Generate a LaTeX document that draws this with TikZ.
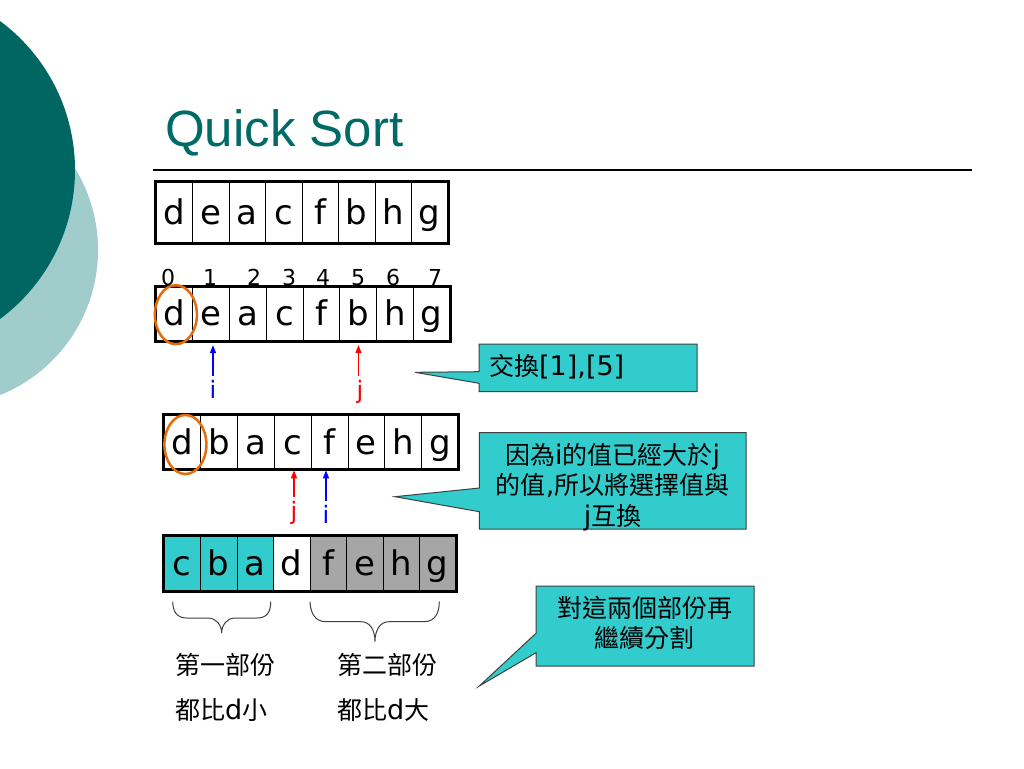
\documentclass[tikz,border=0pt]{standalone}
\usepackage{fontspec}
\setmainfont{DejaVu Sans}
\newfontfamily\cjk{Noto Sans CJK TC}
\newfontfamily\titlefont{Liberation Sans}
\usetikzlibrary{arrows.meta,calc}
\definecolor{tealdark}{RGB}{0,102,98}
\definecolor{teallight}{RGB}{160,204,204}
\definecolor{titlec}{RGB}{0,107,102}
\definecolor{turq}{RGB}{51,204,204}
\definecolor{grayc}{RGB}{166,166,166}
\definecolor{orangec}{RGB}{228,108,10}
\definecolor{edgec}{RGB}{64,64,64}
\newcommand{\lat}[1]{{\fontsize{27}{30}\selectfont #1}}
\begin{document}
\begin{tikzpicture}[x=1pt,y=-1pt]
\tikzset{
 cell/.style={draw=black,line width=0.8pt,inner sep=0pt,font=\fontsize{34}{40}\selectfont,text height=26pt,text depth=2pt},
 idx/.style={anchor=base,inner sep=0pt,font=\fontsize{22}{24}\selectfont},
 ptrlabel/.style={anchor=base,inner sep=0pt,font=\fontsize{24}{28}\selectfont},
 ptr/.style={line width=1.3pt,-{Triangle[width=6pt,length=8pt]}},
 frame/.style={line width=3pt},
 pivot/.style={draw=orangec,line width=2.5pt},
 callout/.style={fill=turq,draw=edgec,line width=1pt},
 ctext/.style={anchor=base,inner sep=0pt,font=\fontsize{25}{30}\selectfont},
 bracestyle/.style={draw=edgec,line width=1pt},
 lab/.style={anchor=base west,inner sep=0pt,font=\fontsize{25}{30}\selectfont}
}
\useasboundingbox (0,0) rectangle (1024,768);
\fill[white] (0,0) rectangle (1024,768);
% decorative circles
\begin{scope}
\clip (0,0) rectangle (1024,768);
\fill[teallight] (-58.3,250) circle[radius=156.3pt];
\fill[tealdark] (-110.5,170) circle[radius=185.5pt];
\end{scope}
% title
\node[anchor=base west,inner sep=0pt,text=titlec,font=\titlefont\fontsize{51}{60}\selectfont] (title) at (165,146) {Quick Sort};
\draw[line width=1.5pt] (153,170) -- (972,170);
% array 1
\foreach \l [count=\n from 0] in {d,e,a,c,f,b,h,g}
  \node[cell,minimum width=36.5pt,minimum height=61pt] (a1-\n) at ({174.25+36.5*\n},212.5) {\l};
\draw[frame] (a1-0.north west) rectangle (a1-7.south east);
% indices
\foreach \d/\x in {0/168,1/210,2/254,3/289,4/323,5/358,6/393,7/435}
  \node[idx] (n\d) at (\x,285) {\d};
% array 2
\foreach \l [count=\n from 0] in {d,e,a,c,f,b,h,g}
  \node[cell,minimum width=36.75pt,minimum height=54pt] (a2-\n) at ({174.375+36.75*\n},313.7) {\l};
\draw[frame] (a2-0.north west) rectangle (a2-7.south east);
\draw[pivot] ($(a2-0)+(1.5,1)$) ellipse [x radius=21pt,y radius=29.5pt];
\node[ptrlabel,text=blue] (i1) at (213,398) {i};
\node[ptrlabel,text=red] (j1) at (360,398) {j};
\draw[ptr,blue] ([yshift=4pt]i1.north) -- ($(i1.north |- a2-1.south)+(0,4)$);
\draw[ptr,red] ([xshift=-1.5pt,yshift=4pt]j1.north) -- ($(j1.north |- a2-5.south)+(-1.5,4)$);
% callout 1
\path[callout] (479,344) -- (697,344) -- (697,391.7) -- (479,391.7) -- (479,383.3) -- (415,372.3) -- (479,371.7) -- cycle;
\node[ctext,anchor=base west] (t1) at (489,375) {{\cjk 交換}\lat{[1],[5]}};
% array 3
\foreach \l [count=\n from 0] in {d,b,a,c,f,e,h,g}
  \node[cell,minimum width=36.8pt,minimum height=54pt] (a3-\n) at ({182.4+36.8*\n},442) {\l};
\draw[frame] (a3-0.north west) rectangle (a3-7.south east);
\draw[pivot] ($(a3-0)+(3,2.5)$) ellipse [x radius=21pt,y radius=29.5pt];
\node[ptrlabel,text=red] (j2) at (294,519) {j};
\node[ptrlabel,text=blue] (i2) at (326,523) {i};
\draw[ptr,red] ([yshift=4pt]j2.north) -- ($(j2.north |- a3-3.south)+(0,1)$);
\draw[ptr,blue] ([yshift=4pt]i2.north) -- ($(i2.north |- a3-4.south)+(0,1)$);
% callout 2
\path[callout] (479.3,432.7) -- (746,432.7) -- (746,529) -- (479.3,529) -- (479.3,511.7) -- (395,496.7) -- (479.3,488) -- cycle;
\node[ctext] (t2a) at (612.7,464) {{\cjk 因為}\lat{i}{\cjk 的值已經大於}\lat{j}};
\node[ctext] (t2b) at (612.7,494.5) {{\cjk 的值}\lat{,}{\cjk 所以將選擇值與}};
\node[ctext] (t2c) at (612.7,525) {\lat{j}{\cjk 互換}};
% array 4
\foreach \l/\f [count=\n from 0] in {c/turq,b/turq,a/turq,d/white,f/grayc,e/grayc,h/grayc,g/grayc}
  \node[cell,fill=\f,minimum width=36.5pt,minimum height=55pt] (a4-\n) at ({182.25+36.5*\n},563.5) {\l};
\draw[frame] (a4-0.north west) rectangle (a4-7.south east);
% braces
\draw[bracestyle] (172.7,601.7) .. controls (173,612) and (177,618) .. (187,618) -- (208,618) .. controls (216,618) and (221.7,625) .. (221.7,633) .. controls (221.7,625) and (227,618) .. (235,618) -- (257,618) .. controls (267,618) and (270.7,612) .. (270.7,601.7);
\draw[bracestyle] (310,601.7) .. controls (310.5,613) and (315,621.7) .. (326,621.7) -- (361,621.7) .. controls (370,621.7) and (375,630) .. (375,641.7) .. controls (375,630) and (380,621.7) .. (389,621.7) -- (424,621.7) .. controls (435,621.7) and (439.3,613) .. (439.3,601.7);
% labels
\node[lab] (l1) at (175,674) {\cjk 第一部份};
\node[lab] (l2) at (175,719) {{\cjk 都比}\lat{d}{\cjk 小}};
\node[lab] (l3) at (337,674) {\cjk 第二部份};
\node[lab] (l4) at (337,719) {{\cjk 都比}\lat{d}{\cjk 大}};
% callout 3
\path[callout] (536,586) -- (754,586) -- (754,666) -- (536,666) -- (536,652.7) -- (479.3,686) -- (536,633.3) -- cycle;
\node[ctext] (t3a) at (645,617) {\cjk 對這兩個部份再};
\node[ctext] (t3b) at (644,647) {\cjk 繼續分割};
\end{tikzpicture}
\end{document}
